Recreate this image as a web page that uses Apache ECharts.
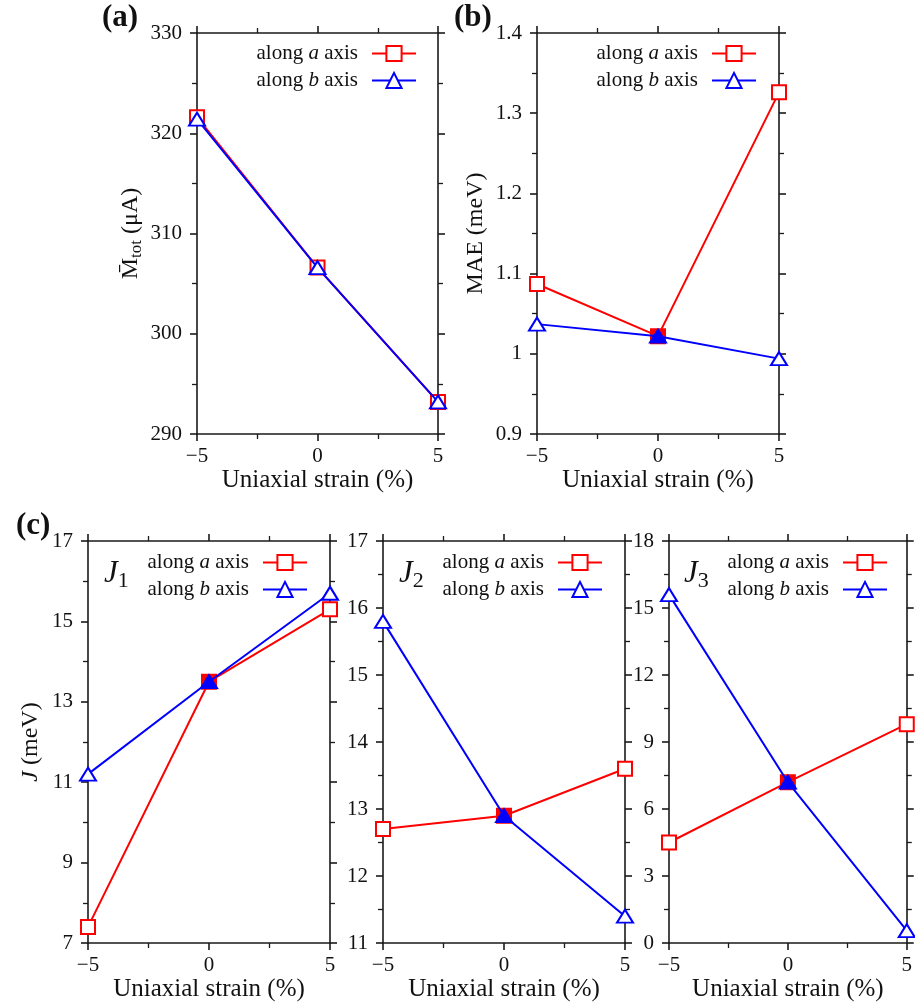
<!DOCTYPE html>
<html>
<head>
<meta charset="utf-8">
<script src="https://cdn.jsdelivr.net/npm/echarts@6/dist/echarts.min.js"></script>
<style>
html,body{margin:0;padding:0;background:#fff;}
#c{width:915px;height:1007px;}
</style>
</head>
<body>
<div id="c"></div>
<script>
// ---- data ----
const strain = [-5, 0, 5];
const xTicks = [-5, 0, 5];
const mtotA = [321.6, 306.6, 293.2];
const mtotB = [321.4, 306.6, 293.2];
const maeA = [1.087, 1.022, 1.326];
const maeB = [1.037, 1.022, 0.994];
const j1A = [7.4, 13.5, 15.3];
const j1B = [11.2, 13.5, 15.7];
const j2A = [12.7, 12.9, 13.6];
const j2B = [15.8, 12.9, 11.4];
const j3A = [4.5, 7.2, 9.8];
const j3B = [15.6, 7.2, 0.55];
const seriesNames = ['along a axis', 'along b axis'];

const FONT = 'Liberation Serif';
const RED = '#ff0000', BLUE = '#0000ff', AX = '#1a1a1a';

const panels = [
  {grid:{left:197, top:33, width:241, height:401}, y:{min:290, max:330, interval:10}, a:mtotA, b:mtotB, fillMid:false,
   yName:'{m|M\u0304}{s|tot}{m| (\u03bcA)}', yGap:52, legend:{right:498, top:43}},
  {grid:{left:537, top:33, width:242, height:401}, y:{min:0.9, max:1.4, interval:0.1}, a:maeA, b:maeB, fillMid:true,
   yName:'{m|MAE (meV)}', yGap:49, legend:{right:158, top:43}},
  {grid:{left:88, top:541, width:242, height:402}, y:{min:7, max:17, interval:2}, a:j1A, b:j1B, fillMid:true,
   yName:'{i|J}{m| (meV)}', yGap:45, legend:{right:607, top:552}, jl:{x:104, sub:'1'}},
  {grid:{left:383, top:541, width:242, height:402}, y:{min:11, max:17, interval:1}, a:j2A, b:j2B, fillMid:true,
   yName:'', legend:{right:312, top:552}, jl:{x:399, sub:'2'}},
  {grid:{left:669, top:541, width:241, height:402}, y:{min:0, max:18, interval:3}, a:j3A, b:j3B, fillMid:true,
   yName:'', legend:{right:27, top:552}, jl:{x:684, sub:'3'}}
];

const minus = v => String(v).replace('-', '\u2212');
const axisLineStyle = {color: AX, width: 1.6};

const grid = [], xAxis = [], yAxis = [], series = [], legend = [], graphic = [];

panels.forEach((p, i) => {
  grid.push(Object.assign({containLabel:false}, p.grid));
  // bottom x
  xAxis.push({
    type:'value', gridIndex:i, min:-5, max:5, interval:5, position:'bottom',
    name:'Uniaxial strain (%)', nameLocation:'middle', nameGap:32,
    nameTextStyle:{fontFamily:FONT, fontSize:25, color:'#111'},
    axisLine:{show:true, onZero:false, lineStyle:axisLineStyle},
    axisTick:{show:true, length:7, lineStyle:axisLineStyle},
    minorTick:{show:true, splitNumber:2, length:5, lineStyle:{color:AX, width:1.3}},
    splitLine:{show:false},
    axisLabel:{fontFamily:FONT, fontSize:21, color:'#111', margin:12, formatter:v => xTicks.includes(v) ? minus(v) : ''}
  });
  // top mirror x
  xAxis.push({
    type:'value', gridIndex:i, min:-5, max:5, interval:5, position:'top',
    axisLine:{show:true, onZero:false, lineStyle:axisLineStyle},
    axisTick:{show:true, length:7, lineStyle:axisLineStyle},
    minorTick:{show:true, splitNumber:2, length:5, lineStyle:{color:AX, width:1.3}},
    splitLine:{show:false}, axisLabel:{show:false}
  });
  // left y
  yAxis.push({
    type:'value', gridIndex:i, min:p.y.min, max:p.y.max, interval:p.y.interval, position:'left',
    name:p.yName, nameLocation:'middle', nameGap:p.yGap || 40, nameRotate:90,
    nameTextStyle:{fontFamily:FONT, fontSize:24, color:'#111',
      rich:{m:{fontFamily:FONT, fontSize:24, color:'#111'},
            i:{fontFamily:FONT, fontSize:24, fontStyle:'italic', color:'#111'},
            s:{fontFamily:FONT, fontSize:17, color:'#111', padding:[11,0,0,0]}}},
    axisLine:{show:true, onZero:false, lineStyle:axisLineStyle},
    axisTick:{show:true, length:7, lineStyle:axisLineStyle},
    minorTick:{show:true, splitNumber:2, length:5, lineStyle:{color:AX, width:1.3}},
    splitLine:{show:false},
    axisLabel:{fontFamily:FONT, fontSize:21, color:'#111', margin:15, formatter:v => minus(+v.toFixed(2))}
  });
  // right mirror y
  yAxis.push({
    type:'value', gridIndex:i, min:p.y.min, max:p.y.max, interval:p.y.interval, position:'right',
    axisLine:{show:true, onZero:false, lineStyle:axisLineStyle},
    axisTick:{show:true, length:7, lineStyle:axisLineStyle},
    minorTick:{show:true, splitNumber:2, length:5, lineStyle:{color:AX, width:1.3}},
    splitLine:{show:false}, axisLabel:{show:false}
  });

  const mk = (vals, filledSym, color) => strain.map((x, k) => {
    const item = {value:[x, vals[k]]};
    if (p.fillMid && x === 0) { item.symbol = filledSym; item.itemStyle = {color: color, borderColor: color}; }
    return item;
  });
  series.push({
    name:seriesNames[0], type:'line', xAxisIndex:2*i, yAxisIndex:2*i,
    data:mk(p.a, 'rect', RED), symbol:'emptyRect', symbolSize:14,
    lineStyle:{color:RED, width:2}, itemStyle:{color:RED, borderColor:RED, borderWidth:2},
    z:3, animation:false, clip:false
  });
  series.push({
    name:seriesNames[1], type:'line', xAxisIndex:2*i, yAxisIndex:2*i,
    data:mk(p.b, 'triangle', BLUE), symbol:'emptyTriangle', symbolSize:[16,13],
    lineStyle:{color:BLUE, width:2}, itemStyle:{color:BLUE, borderColor:BLUE, borderWidth:2},
    z:4, animation:false, clip:false
  });

  legend.push({
    orient:'vertical', right:p.legend.right, top:p.legend.top, align:'right', padding:0,
    itemWidth:44, itemHeight:19, itemGap:6, selectedMode:false,
    data:seriesNames,
    formatter: n => n.replace(/along (\w) axis/, 'along {i|$1} axis'),
    textStyle:{fontFamily:FONT, fontSize:21, color:'#111', padding:[0,9,0,0],
      rich:{i:{fontFamily:FONT, fontSize:21, fontStyle:'italic', color:'#111'}}}
  });

  if (p.jl) {
    graphic.push({
      type:'text', left:p.jl.x, top:558,
      style:{text:'{j|J}{s|' + p.jl.sub + '}',
        rich:{j:{fontFamily:FONT, fontSize:31, fontStyle:'italic', fill:'#111'},
              s:{fontFamily:FONT, fontSize:22, fill:'#111', padding:[16,0,0,0]}}}
    });
  }
});

graphic.push({type:'text', left:102, top:2, style:{text:'(a)', font:'bold 31px "Liberation Serif"', fill:'#111'}});
graphic.push({type:'text', left:454, top:2, style:{text:'(b)', font:'bold 31px "Liberation Serif"', fill:'#111'}});
graphic.push({type:'text', left:16, top:510, style:{text:'(c)', font:'bold 31px "Liberation Serif"', fill:'#111'}});

const chart = echarts.init(document.getElementById('c'), null, {renderer:'canvas'});
chart.setOption({
  backgroundColor:'#fff', animation:false,
  grid, xAxis, yAxis, series, legend, graphic
});
</script>
</body>
</html>
